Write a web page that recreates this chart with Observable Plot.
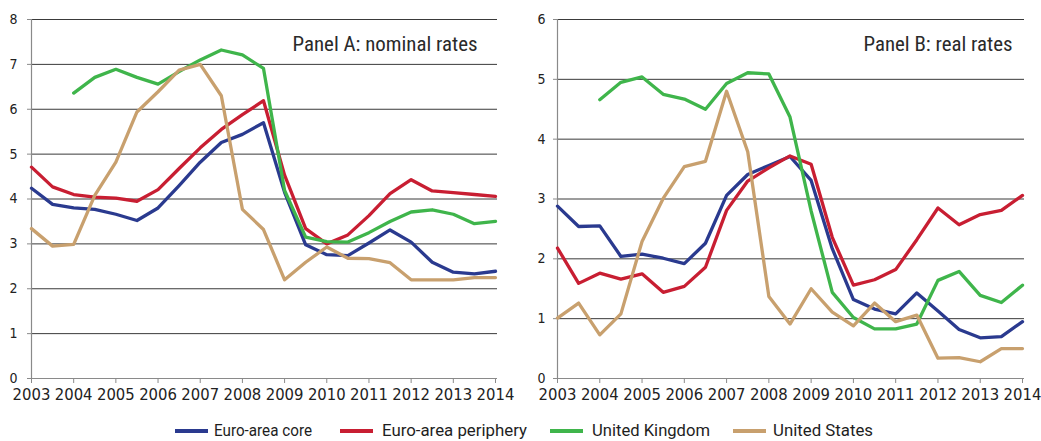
<!DOCTYPE html>
<html><head><meta charset="utf-8">
<script src="https://cdn.jsdelivr.net/npm/d3@7"></script>
<script src="https://cdn.jsdelivr.net/npm/@observablehq/plot@0.6"></script>
<style>
body{margin:0;background:#fff;}
#wrap{position:relative;width:1041px;height:441px;overflow:hidden;background:#fff;}
#pa{position:absolute;left:0;top:0;}
#pb{position:absolute;left:520px;top:0;}
#legend{position:absolute;left:0;top:420px;width:1041px;height:21px;font-family:Roboto,sans-serif;font-size:16.5px;color:#1e1e1e;}
.sw{position:absolute;height:4px;width:33px;top:9px;}
.lab{position:absolute;top:0;line-height:21px;white-space:nowrap;transform-origin:left center;}
</style>
</head><body>
<div id="wrap"><div id="pa"></div><div id="pb"></div><div id="legend"></div></div>
<script>
// x positions: half-year observations
const periods = [2003,2003.5,2004,2004.5,2005,2005.5,2006,2006.5,2007,2007.5,2008,2008.5,2009,2009.5,2010,2010.5,2011,2011.5,2012,2012.5,2013,2013.5,2014];
const yearTicks = [2003,2004,2005,2006,2007,2008,2009,2010,2011,2012,2013,2014];
const seriesNames = ["Euro-area core","Euro-area periphery","United Kingdom","United States"];
const seriesColors = ["#2a3a8f","#c81e32","#3fb54b","#c8a06e"];

// Panel A: nominal rates
const nominalCore = [4.24,3.88,3.80,3.77,3.66,3.52,3.80,4.30,4.82,5.26,5.44,5.70,4.15,2.98,2.76,2.74,3.02,3.31,3.04,2.59,2.37,2.33,2.39];
const nominalPeriphery = [4.71,4.27,4.10,4.04,4.02,3.95,4.21,4.68,5.14,5.55,5.88,6.19,4.53,3.34,3.00,3.20,3.63,4.12,4.43,4.18,4.14,4.10,4.06];
const nominalUK = [null,null,6.36,6.71,6.89,6.71,6.56,6.84,7.10,7.32,7.21,6.91,4.19,3.15,3.05,3.04,3.25,3.50,3.71,3.76,3.66,3.45,3.50];
const nominalUS = [3.34,2.95,2.99,4.08,4.82,5.94,6.39,6.87,7.00,6.30,3.77,3.32,2.20,2.59,2.93,2.68,2.67,2.58,2.20,2.20,2.20,2.25,2.25];
const nominalTicks = [0,1,2,3,4,5,6,7,8];

// Panel B: real rates
const realCore = [2.88,2.54,2.55,2.04,2.08,2.01,1.92,2.26,3.06,3.41,3.56,3.71,3.31,2.17,1.32,1.16,1.08,1.43,1.13,0.82,0.68,0.70,0.95];
const realPeriphery = [2.18,1.59,1.76,1.66,1.75,1.44,1.54,1.86,2.81,3.30,3.52,3.72,3.58,2.36,1.56,1.65,1.82,2.32,2.85,2.57,2.74,2.81,3.06];
const realUK = [null,null,4.66,4.95,5.04,4.75,4.67,4.50,4.93,5.11,5.09,4.37,2.80,1.44,1.02,0.83,0.83,0.91,1.64,1.79,1.39,1.27,1.56];
const realUS = [1.01,1.26,0.73,1.08,2.29,3.01,3.54,3.63,4.80,3.79,1.37,0.91,1.50,1.11,0.88,1.26,0.95,1.06,0.34,0.35,0.28,0.50,0.50];
const realTicks = [0,1,2,3,4,5,6];

function tidy(arrays) {
  return arrays.flatMap((vals, i) => vals.map((v, j) => ({x: periods[j], y: v, s: seriesNames[i]})));
}

function panel({data, ticks, title, titleWidth, width, marginLeft, marginRight, tickPadding, titleDx}) {
  const svg = Plot.plot({
    width, height: 410,
    marginTop: 19, marginBottom: 32, marginLeft, marginRight,
    x: {domain: [yearTicks[0], yearTicks[yearTicks.length - 1]]},
    y: {domain: [ticks[0], ticks[ticks.length - 1]]},
    color: {domain: seriesNames, range: seriesColors},
    style: {fontFamily: "'DejaVu Sans', sans-serif", fontStretch: "condensed", background: "#fff", color: "#222", overflow: "visible"},
    marks: [
      Plot.ruleY(ticks.filter(d => d > 0), {stroke: "#3a3a3a", strokeWidth: 1, insetRight: -2}),
      Plot.ruleY([0], {stroke: "#8a8a8a", strokeWidth: 1.2, insetRight: -2}),
      Plot.ruleX([yearTicks[0]], {stroke: "#8a8a8a", strokeWidth: 1.2}),
      Plot.axisY({ticks, tickSize: 4, tickPadding, stroke: "#8a8a8a", fill: "#222", fontSize: 14, label: null, tickFormat: d => String(d)}),
      Plot.axisX({ticks: yearTicks, tickSize: 5, tickPadding: 5, stroke: "#8a8a8a", fill: "#222", fontSize: 16.5, label: null, tickFormat: d => String(d)}),
      Plot.line(data, {x: "x", y: "y", z: "s", stroke: "s", strokeWidth: 3.3, strokeLinejoin: "round"}),
      Plot.text([title], {frameAnchor: "top-right", dx: titleDx, dy: 17.5, lineAnchor: "top", textAnchor: "end", fontSize: 20, fontFamily: "Roboto, sans-serif", fill: "#2a2a2a"})
    ]
  });
  d3.select(svg).selectAll("text").filter(function() { return this.textContent === title; })
    .attr("textLength", titleWidth).attr("lengthAdjust", "spacingAndGlyphs");
  return svg;
}

document.getElementById("pa").append(panel({
  data: tidy([nominalCore, nominalPeriphery, nominalUK, nominalUS]),
  ticks: nominalTicks, title: "Panel A: nominal rates", titleWidth: 185,
  width: 520, marginLeft: 31, marginRight: 25, tickPadding: 10, titleDx: -18
}));
document.getElementById("pb").append(panel({
  data: tidy([realCore, realPeriphery, realUK, realUS]),
  ticks: realTicks, title: "Panel B: real rates", titleWidth: 149,
  width: 521, marginLeft: 37, marginRight: 19, tickPadding: 8, titleDx: -10
}));

// legend
const swLeft = [175, 340, 550, 733];
const labLeft = [214, 382, 592, 773];
const labWidth = [98, 145, 118, 100];
const legend = document.getElementById("legend");
seriesNames.forEach((name, i) => {
  const sw = document.createElement("div");
  sw.className = "sw"; sw.style.left = swLeft[i] + "px"; sw.style.background = seriesColors[i];
  const lab = document.createElement("div");
  lab.className = "lab"; lab.style.left = labLeft[i] + "px"; lab.textContent = name;
  legend.append(sw, lab);
  const w = lab.getBoundingClientRect().width;
  if (w > 0) lab.style.transform = `scaleX(${labWidth[i] / w})`;
});
</script>
</body></html>
